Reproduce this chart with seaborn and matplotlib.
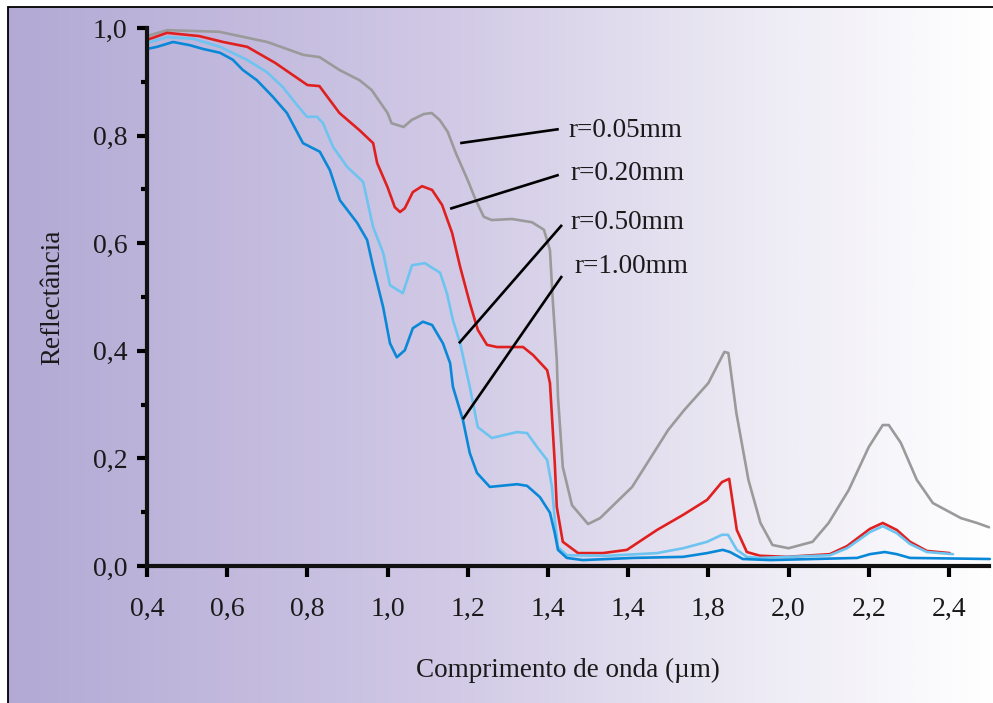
import numpy as np
import pandas as pd
import matplotlib
matplotlib.use("Agg")
import matplotlib.pyplot as plt
from matplotlib.colors import LinearSegmentedColormap
from matplotlib.patches import Rectangle
import seaborn as sns

# ---------------- data ----------------
wl_005 = [0.40, 0.45, 0.58, 0.70, 0.79, 0.83, 0.88, 0.93, 0.96, 1.00, 1.01, 1.04, 1.06, 1.09,
          1.11, 1.13, 1.15, 1.17, 1.20, 1.22, 1.24, 1.26, 1.31, 1.36, 1.39, 1.405, 1.412, 1.422,
          1.425, 1.437, 1.46, 1.50, 1.53, 1.61, 1.70, 1.74, 1.80, 1.84, 1.85, 1.87, 1.90, 1.93,
          1.96, 2.00, 2.03, 2.06, 2.10, 2.15, 2.20, 2.235, 2.25, 2.28, 2.32, 2.36, 2.43, 2.47, 2.50]
r_005 = [0.985, 0.996, 0.993, 0.974, 0.950, 0.946, 0.922, 0.903, 0.885, 0.842, 0.823, 0.816,
         0.829, 0.840, 0.842, 0.829, 0.807, 0.768, 0.717, 0.680, 0.649, 0.643, 0.645, 0.639,
         0.625, 0.587, 0.494, 0.383, 0.314, 0.184, 0.113, 0.078, 0.089, 0.147, 0.253, 0.290,
         0.340, 0.398, 0.396, 0.284, 0.160, 0.080, 0.039, 0.033, 0.039, 0.045, 0.080, 0.141,
         0.221, 0.262, 0.262, 0.229, 0.160, 0.117, 0.089, 0.080, 0.072]

wl_020 = [0.40, 0.45, 0.53, 0.59, 0.65, 0.72, 0.80, 0.83, 0.88, 0.93, 0.964, 0.974, 1.00, 1.018,
          1.031, 1.043, 1.063, 1.086, 1.111, 1.136, 1.161, 1.181, 1.205, 1.225, 1.248, 1.273,
          1.338, 1.363, 1.398, 1.405, 1.417, 1.422, 1.437, 1.475, 1.537, 1.597, 1.672, 1.737,
          1.797, 1.834, 1.852, 1.871, 1.896, 1.929, 1.996, 2.103, 2.146, 2.203, 2.235, 2.270,
          2.303, 2.345, 2.402]
r_020 = [0.978, 0.991, 0.985, 0.974, 0.965, 0.935, 0.894, 0.892, 0.842, 0.810, 0.786, 0.749,
         0.704, 0.667, 0.658, 0.665, 0.695, 0.706, 0.699, 0.671, 0.619, 0.556, 0.489, 0.439,
         0.411, 0.407, 0.407, 0.392, 0.364, 0.340, 0.191, 0.110, 0.045, 0.024, 0.024, 0.030,
         0.067, 0.095, 0.123, 0.156, 0.162, 0.067, 0.026, 0.019, 0.017, 0.022, 0.037, 0.069,
         0.080, 0.067, 0.045, 0.028, 0.024]

wl_050 = [0.40, 0.45, 0.515, 0.582, 0.649, 0.699, 0.739, 0.774, 0.799, 0.824, 0.839, 0.864,
          0.899, 0.939, 0.964, 0.989, 1.006, 1.038, 1.061, 1.093, 1.131, 1.148, 1.163, 1.181,
          1.205, 1.225, 1.260, 1.323, 1.348, 1.373, 1.398, 1.410, 1.417, 1.425, 1.447, 1.547,
          1.672, 1.737, 1.797, 1.834, 1.849, 1.871, 1.896, 1.929, 2.103, 2.146, 2.203, 2.235,
          2.270, 2.303, 2.345, 2.410]
r_050 = [0.972, 0.983, 0.980, 0.965, 0.941, 0.918, 0.890, 0.857, 0.835, 0.835, 0.823, 0.779,
         0.742, 0.714, 0.630, 0.582, 0.522, 0.507, 0.559, 0.563, 0.545, 0.507, 0.457, 0.414,
         0.333, 0.258, 0.238, 0.249, 0.247, 0.221, 0.197, 0.147, 0.086, 0.035, 0.020, 0.019,
         0.024, 0.033, 0.045, 0.058, 0.058, 0.030, 0.017, 0.015, 0.020, 0.033, 0.063, 0.074,
         0.061, 0.041, 0.026, 0.022]

wl_100 = [0.40, 0.425, 0.465, 0.507, 0.540, 0.582, 0.614, 0.639, 0.674, 0.714, 0.749, 0.789,
          0.831, 0.856, 0.881, 0.924, 0.949, 0.964, 0.989, 1.006, 1.023, 1.043, 1.063, 1.088,
          1.111, 1.138, 1.156, 1.163, 1.188, 1.205, 1.223, 1.255, 1.323, 1.348, 1.380, 1.405,
          1.417, 1.425, 1.447, 1.487, 1.612, 1.737, 1.797, 1.836, 1.854, 1.886, 1.954, 2.171,
          2.203, 2.240, 2.270, 2.303, 2.502]
r_100 = [0.961, 0.965, 0.974, 0.968, 0.961, 0.954, 0.941, 0.922, 0.903, 0.872, 0.842, 0.786,
         0.770, 0.736, 0.680, 0.638, 0.606, 0.556, 0.481, 0.414, 0.388, 0.401, 0.442, 0.454,
         0.448, 0.414, 0.377, 0.333, 0.271, 0.210, 0.173, 0.147, 0.152, 0.149, 0.128, 0.099,
         0.061, 0.030, 0.015, 0.011, 0.015, 0.017, 0.024, 0.030, 0.026, 0.013, 0.011, 0.015,
         0.022, 0.026, 0.022, 0.015, 0.013]

series_labels = ["r=0.05mm", "r=0.20mm", "r=0.50mm", "r=1.00mm"]
x_tick_values = [0.4, 0.6, 0.8, 1.0, 1.2, 1.4, 1.6, 1.8, 2.0, 2.2, 2.4]
x_tick_labels = ["0,4", "0,6", "0,8", "1,0", "1,2", "1,4", "1,4", "1,8", "2,0", "2,2", "2,4"]
y_tick_values = [0.0, 0.2, 0.4, 0.6, 0.8, 1.0]
y_tick_labels = ["0,0", "0,2", "0,4", "0,6", "0,8", "1,0"]

# label anchor positions (data coords): text start, leader line ends
label_text_pos = [(1.452, 0.809), (1.457, 0.730), (1.457, 0.639), (1.467, 0.556)]
leader_start = [(1.181, 0.786), (1.156, 0.664), (1.178, 0.414), (1.188, 0.273)]
leader_end = [(1.427, 0.812), (1.427, 0.727), (1.435, 0.634), (1.435, 0.539)]

colors = ["#9a9a9a", "#e0201f", "#6ec4f0", "#0a88d8"]

# ---------------- figure ----------------
sns.set_theme(style="ticks")
plt.rcParams["font.family"] = ["Liberation Serif", "DejaVu Serif"]

W, H = 993, 703
fig = plt.figure(figsize=(W / 100, H / 100), dpi=100)
fig.patch.set_facecolor("white")

# gradient background inside the frame
bx0, by1 = 8 / W, 1 - 7 / H
bg = fig.add_axes([bx0, 0, 1 - bx0, by1], zorder=0)
cmap = LinearSegmentedColormap.from_list(
    "bg", [(0.0, (0.70, 0.665, 0.835)), (0.45, (0.82, 0.79, 0.90)),
           (0.75, (0.925, 0.915, 0.955)), (1.0, (1.0, 1.0, 1.0))])
grad = np.linspace(0, 1, 512).reshape(1, -1)
bg.imshow(grad, aspect="auto", cmap=cmap, extent=[0, 1, 0, 1])
bg.set_axis_off()
fig.add_artist(Rectangle((bx0, -0.05), 1.2, by1 + 0.05, transform=fig.transFigure,
                         fill=False, edgecolor="black", lw=1.3, zorder=5))

ax = fig.add_axes([147 / W, 1 - 566 / H, (989 - 147) / W, (566 - 28) / H], zorder=2)
ax.patch.set_alpha(0)

for wl, rv, c in zip([wl_005, wl_020, wl_050, wl_100], [r_005, r_020, r_050, r_100], colors):
    df = pd.DataFrame({"wl": wl, "r": rv})
    sns.lineplot(data=df, x="wl", y="r", color=c, lw=1.9, ax=ax, sort=False,
                 estimator=None, clip_on=False)

for lab, tp, s, e in zip(series_labels, label_text_pos, leader_start, leader_end):
    ax.plot([s[0], e[0]], [s[1], e[1]], color="black", lw=1.9, solid_capstyle="butt")
    ax.text(tp[0], tp[1], lab, fontsize=19.5, va="center", ha="left", color="#1a1a1a")

ax.set_xlim(0.4, 2.5)
ax.set_ylim(0, 1.0)
ax.set_xticks(x_tick_values)
ax.set_xticklabels(x_tick_labels)
ax.set_yticks(y_tick_values)
ax.set_yticklabels(y_tick_labels)
ax.set_yticks([0.1, 0.3, 0.5, 0.7, 0.9], minor=True)
ax.tick_params(axis="x", which="major", length=8, width=3, pad=14, labelsize=20,
               colors="black", labelcolor="#1a1a1a")
ax.tick_params(axis="y", which="major", length=7, width=3, pad=7, labelsize=20,
               colors="black", labelcolor="#1a1a1a")
ax.tick_params(axis="y", which="minor", length=4, width=3, colors="black")
for side in ["top", "right"]:
    ax.spines[side].set_visible(False)
for side in ["left", "bottom"]:
    ax.spines[side].set_linewidth(3)
    ax.spines[side].set_color("#111111")

ax.set_xlabel("Comprimento de onda (µm)", fontsize=19.5, color="#1a1a1a", labelpad=26)
ax.set_ylabel("Reflectância", fontsize=19.5, color="#1a1a1a", labelpad=20)

fig.savefig("out.png", dpi=100)
